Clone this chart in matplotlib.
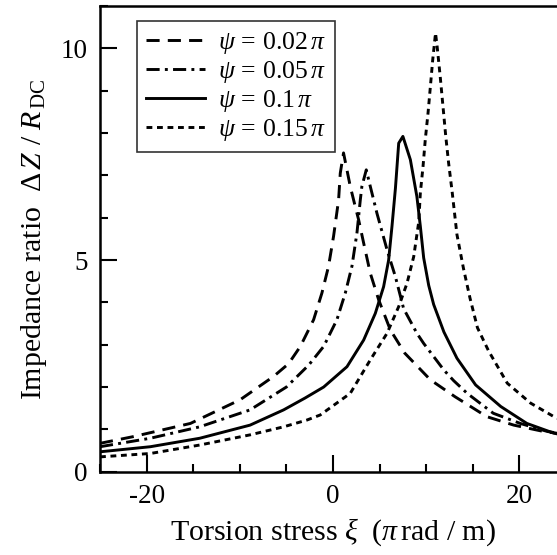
import matplotlib
matplotlib.use("Agg")
import matplotlib.pyplot as plt
from matplotlib.ticker import MultipleLocator, FuncFormatter

plt.rcParams['font.family'] = ['Liberation Serif', 'DejaVu Serif']
plt.rcParams['mathtext.fontset'] = 'custom'
plt.rcParams['mathtext.rm'] = 'Liberation Serif'
plt.rcParams['mathtext.it'] = 'Liberation Serif:italic'
plt.rcParams['mathtext.bf'] = 'Liberation Serif:bold'

# psi = 0.02 pi
x1 = [-25, -21.4, -15.3, -9.96, -6.38, -4.77, -3.5, -2.08, -1.19, -0.48, 0.06, 0.6, 0.78, 1.13,
      1.85, 2.39, 2.75, 3.29, 4.0, 4.9, 6.15, 7.7, 10.45, 13.1, 16.5, 19.4, 22.6, 25]
y1 = [0.67, 0.83, 1.14, 1.7, 2.25, 2.55, 2.96, 3.59, 4.22, 4.85, 5.56, 6.42, 7.05, 7.53,
      6.74, 6.26, 5.95, 5.4, 4.69, 4.06, 3.35, 2.8, 2.17, 1.77, 1.3, 1.1, 0.95, 0.88]
# psi = 0.05 pi
x2 = [-25, -19.6, -14.3, -8.9, -5.0, -2.6, -1.0, 0.42, 1.32, 2.03, 2.57, 2.93, 3.1, 3.57,
      4.0, 4.72, 5.8, 6.69, 7.58, 9.0, 9.73, 10.8, 11.9, 12.95, 14.4, 17.2, 20.1, 23.0, 25]
y2 = [0.59, 0.79, 1.06, 1.46, 2.0, 2.52, 2.96, 3.59, 4.22, 4.85, 5.64, 6.42, 6.74, 7.13,
      6.74, 6.1, 5.24, 4.61, 3.85, 3.27, 3.03, 2.72, 2.4, 2.15, 1.85, 1.38, 1.14, 0.95, 0.88]
# psi = 0.1 pi
x3 = [-25, -19.6, -14.3, -8.9, -5.3, -3.0, -1.0, 1.5, 3.29, 4.54, 5.43, 5.97, 6.33, 6.7, 7.05, 7.5,
      8.3, 9.0, 9.37, 9.73, 10.27, 10.8, 11.9, 13.3, 15.3, 18.0, 20.8, 23.7, 25]
y3 = [0.47, 0.59, 0.79, 1.1, 1.46, 1.74, 2.0, 2.48, 3.11, 3.74, 4.37, 5.0, 5.8, 6.7, 7.76, 7.92,
      7.37, 6.5, 5.8, 5.05, 4.4, 3.95, 3.3, 2.68, 2.05, 1.54, 1.14, 0.91, 0.85]
# psi = 0.15 pi
x4 = [-25, -19.6, -14.3, -8.9, -5.3, -2.8, -1.37, 1.85, 4.0, 5.8, 7.05, 7.94, 8.66, 9.2, 9.37, 9.66,
      9.9, 10.2, 10.45, 10.7, 11.0, 11.17, 11.5, 11.8, 12.1, 12.4, 12.8, 13.3, 14.0, 14.7, 15.5,
      16.7, 18.7, 21.2, 23.7, 25]
y4 = [0.35, 0.43, 0.63, 0.87, 1.06, 1.22, 1.34, 1.85, 2.64, 3.27, 3.9, 4.45, 5.08, 5.9, 6.58, 7.21,
      7.84, 8.48, 9.1, 9.73, 10.36, 10.05, 9.34, 8.63, 7.92, 7.3, 6.58, 5.6, 4.8, 4.1, 3.4,
      2.85, 2.09, 1.62, 1.3, 1.18]

labels = [r'$\psi\,{=}\,0.02\,\pi$', r'$\psi\,{=}\,0.05\,\pi$', r'$\psi\,{=}\,0.1\,\pi$', r'$\psi\,{=}\,0.15\,\pi$']

fig = plt.figure(figsize=(5.57, 5.55), dpi=100)
ax = fig.add_axes([100/557, 83.3/555, 466/557, 465.7/555])

lw = 2.1
ax.plot(x1, y1, color='black', lw=lw, linestyle=(0, (4.5, 2.8)), label=labels[0])
ax.plot(x2, y2, color='black', lw=lw, linestyle=(0, (4.5, 1.8, 1, 1.8)), label=labels[1])
ax.plot(x3, y3, color='black', lw=lw, linestyle='-', label=labels[2])
ax.plot(x4, y4, color='black', lw=lw, linestyle=(0, (2, 1.6)), label=labels[3])

ax.set_xlim(-25, 25)
ax.set_ylim(0, 11)
ax.xaxis.set_major_locator(MultipleLocator(20))
ax.xaxis.set_minor_locator(MultipleLocator(5))
ax.yaxis.set_major_locator(MultipleLocator(5))
ax.yaxis.set_minor_locator(MultipleLocator(1))
ax.tick_params(which='both', direction='in', top=False, right=False, width=1.5, labelsize=19.5)
ax.tick_params(which='major', length=12, pad=9)
ax.tick_params(which='minor', length=6)
for s in ax.spines.values():
    s.set_linewidth(1.8)

ax.xaxis.set_major_formatter(FuncFormatter(lambda v, p: '%d' % v))
ax.yaxis.set_major_formatter(FuncFormatter(lambda v, p: '%d' % v))

ax.set_xlabel(r'Torsion stress $\xi$  ($\pi\,$rad / m)', fontsize=21.5, labelpad=5)
ax.set_ylabel(r'Impedance ratio  $\Delta\,Z$ / $R_{\rm\,DC}$', fontsize=21.5, labelpad=8)

leg = ax.legend(loc='upper left', bbox_to_anchor=(0.079, 0.968), borderaxespad=0,
                fontsize=18.5, frameon=True, fancybox=False, edgecolor='black',
                handlelength=2.3, handletextpad=0.5, labelspacing=0.12, borderpad=0.35)
leg.get_frame().set_linewidth(1.2)

fig.savefig('out.png', dpi=100)
